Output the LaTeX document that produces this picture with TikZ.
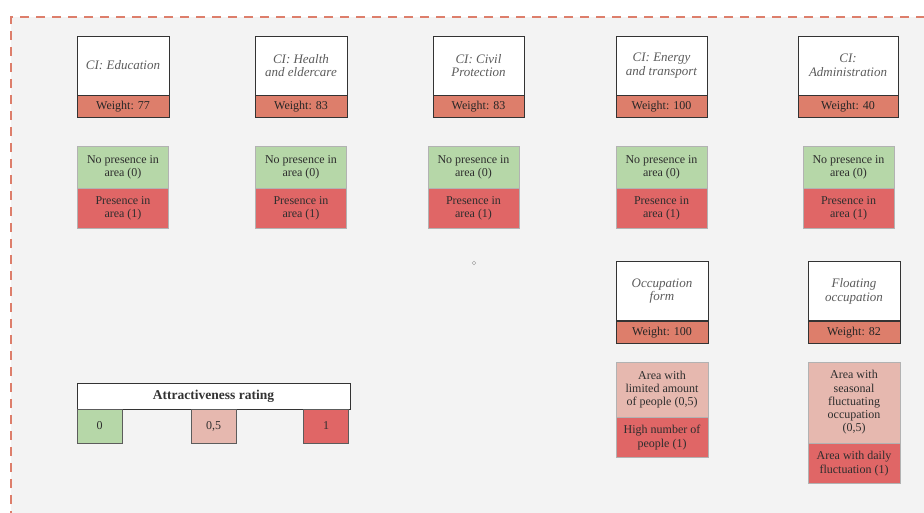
\documentclass[tikz,border=0pt]{standalone}
\usepackage{fontspec}
\setmainfont{Liberation Serif}
\usetikzlibrary{positioning}
\definecolor{paper}{HTML}{F3F3F3}
\definecolor{salmon}{HTML}{DD7E6B}
\definecolor{okgreen}{HTML}{B6D7A8}
\definecolor{alarm}{HTML}{E06666}
\definecolor{blush}{HTML}{E6B8AF}
\definecolor{ink}{HTML}{333333}

\begin{document}
\begin{tikzpicture}[x=1pt,y=-1pt,font=\fontsize{12}{13.3}\selectfont,
 title/.style={draw=ink,line width=.8pt,fill=white,minimum width=92pt,minimum height=59pt,align=center,inner sep=2pt,text=ink!80,font=\itshape\fontsize{13}{13.8}\selectfont},
 weight/.style={draw=ink,line width=.8pt,fill=salmon,minimum width=92pt,minimum height=22pt,inner sep=0pt,text=black!85},
 cell/.style={draw=black!30,line width=.6pt,minimum width=91pt,inner sep=0pt,align=center,text=black!82},
 low/.style={cell,fill=okgreen},
 mid/.style={cell,fill=blush},
 high/.style={cell,fill=alarm},
 scalebox/.style={draw=ink!80,line width=.8pt,minimum width=45pt,minimum height=34pt,inner sep=0pt}]
\path[use as bounding box] (0,0) rectangle (924,512);
\fill[white] (0,0) rectangle (924,512);
\fill[paper] (11,17) rectangle (930,520);
\draw[salmon,line width=2pt,dash pattern=on 9pt off 7pt] (11,520)--(11,17)--(930,17);
% Critical infrastructure rows
\foreach \n/\cx/\bw/\px/\label/\w in {1/123/92/123/{CI: Education}/77,
  2/301/92/301/{CI: Health\\and eldercare}/83,
  3/478.5/91/473.5/{CI: Civil\\Protection}/83,
  4/661.5/91/661.5/{CI: Energy\\and transport}/100,
  5/848/100/848.5/{CI:\\Administration}/40}{
 \node[title,minimum width=\bw pt] (ci\n) at (\cx,65.5) {\label};
 \node[weight,minimum width=\bw pt,below=0pt of ci\n] (wt\n) {Weight: \w};
 \node[low,minimum height=42pt] (no\n) at (\px,167) {No presence in\\area (0)};
 \node[high,minimum height=40pt,below=0pt of no\n] (yes\n) {Presence in\\area (1)};
}
\node[draw=black!40,circle,inner sep=1.3pt] (dot) at (474,263) {};
% Occupation criteria
\node[title] (occ) at (662,291) {Occupation\\form};
\node[weight,below=0pt of occ] (occw) {Weight: 100};
\node[mid,minimum width=92pt,minimum height=55pt] (occlo) at (662,389.5) {Area with\\limited amount\\of people (0,5)};
\node[high,minimum width=92pt,minimum height=40pt,below=0pt of occlo] (occhi) {High number of\\people (1)};
\node[title] (flo) at (854,291) {Floating\\occupation};
\node[weight,below=0pt of flo] (flow) {Weight: 82};
\node[mid,minimum width=92pt,minimum height=81pt] (flolo) at (854,402.5) {Area with\\seasonal\\fluctuating\\occupation\\(0,5)};
\node[high,minimum width=92pt,minimum height=40pt,below=0pt of flolo] (flohi) {Area with daily\\fluctuation (1)};
% Legend
\node[draw=ink,line width=.8pt,fill=white,minimum width=273pt,minimum height=26pt,text=ink,font=\bfseries\fontsize{13.5}{15}\selectfont] (rating) at (213.5,396) {Attractiveness rating};
\node[low,scalebox] (r0) at (99.5,426) {0};
\node[mid,scalebox] (r5) at (213.5,426) {0,5};
\node[high,scalebox] (r1) at (326,426) {1};
\end{tikzpicture}
\end{document}
